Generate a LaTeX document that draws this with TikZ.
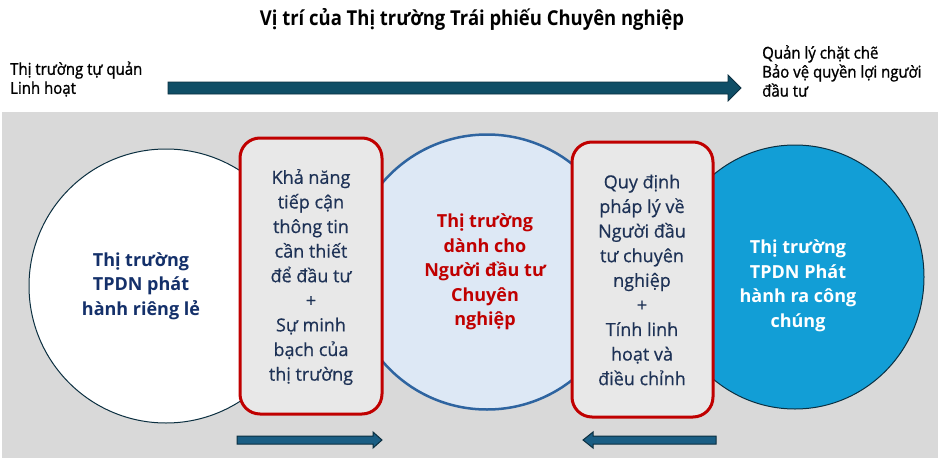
\documentclass[tikz,border=0pt]{standalone}
\usepackage{fontspec}
\setmainfont{Open Sans}
\newfontfamily\titlefont[FakeStretch=0.9]{Open Sans}
\newfontfamily\narrowfont[FakeStretch=0.92,FakeBold=1.2]{Open Sans}
\newfontfamily\boxfont[FakeBold=0.6]{Open Sans}
\usetikzlibrary{shapes.geometric}
\definecolor{bggray}{HTML}{D9D9D9}
\definecolor{boxfill}{HTML}{E8E8E8}
\definecolor{boxred}{HTML}{C00000}
\definecolor{navy}{HTML}{14306A}
\definecolor{boxtext}{HTML}{1E3256}
\definecolor{arrowfill}{HTML}{0F4E66}
\definecolor{smallarrow}{HTML}{1A5E84}
\definecolor{arrowline}{HTML}{0B2F40}
\definecolor{midfill}{HTML}{DDE8F5}
\definecolor{midline}{HTML}{2E64A0}
\definecolor{rightfill}{HTML}{129ED6}
\tikzset{
  x=1pt,y=-1pt,
  toptext/.style={font=\narrowfont\fontsize{16.3}{19}\selectfont, align=left, inner sep=0pt},
  circtext/.style={font=\bfseries\fontsize{18}{24.5}\selectfont, align=center, inner sep=0pt},
  boxtxt/.style={font=\boxfont\fontsize{18}{24.6}\selectfont, align=center, inner sep=0pt, text=boxtext},
  redbox/.style={draw=boxred, line width=3pt, fill=boxfill, rounded corners=20pt},
  bigarrow/.style={fill=arrowfill, draw=arrowline, line width=0.8pt},
  smallarr/.style={fill=smallarrow, draw=arrowline, line width=1pt}
}
\begin{document}
\begin{tikzpicture}
\useasboundingbox (0,0) rectangle (943,458);
\fill[white] (0,0) rectangle (943,458);
% title
\node[font=\titlefont\bfseries\fontsize{20.5}{24}\selectfont, inner sep=0pt] (title) at (472,19) {Vị trí của Thị trường Trái phiếu Chuyên nghiệp};
% top labels
\node[toptext, anchor=west] (ltxt) at (10,79) {Thị trường tự quản\\Linh hoạt};
\node[toptext, anchor=west] (rtxt) at (762,71) {Quản lý chặt chẽ\\Bảo vệ quyền lợi người\\đầu tư};
% top arrow
\path[bigarrow] (168,82) -- (728,82) -- (728,75) -- (741,88) -- (728,101) -- (728,94) -- (168,94) -- cycle;
% gray background
\fill[bggray] (2,112) rectangle (938,458);
% circles
\node[circle, draw=arrowline, line width=1pt, fill=white, minimum size=274pt, inner sep=0pt] (lc) at (166,286) {};
\node[circle, draw=midline, line width=2.5pt, fill=midfill, minimum size=275pt, inner sep=0pt] (mc) at (487,272) {};
\node[ellipse, draw=arrowline, line width=1pt, fill=rightfill, minimum width=258pt, minimum height=264pt, inner sep=0pt] (rc) at (795,277) {};
\node[circtext, text=navy] (lct) at (141,286) {Thị trường\\TPDN phát\\hành riêng lẻ};
\node[circtext, text=boxred] (mct) at (485,272) {Thị trường\\dành cho\\Người đầu tư\\Chuyên\\nghiệp};
\node[circtext, text=white] (rct) at (798,286) {Thị trường\\TPDN Phát\\hành ra công\\chúng};
% boxes
\node[redbox, minimum width=142pt, minimum height=276pt, inner sep=0pt] (lb) at (311,276) {};
\node[boxtxt] (lbt) at (311,277) {Khả năng\\tiếp cận\\thông tin\\cần thiết\\để đầu tư\\+\\Sự minh\\bạch của\\thị trường};
\node[redbox, minimum width=141pt, minimum height=275pt, inner sep=0pt] (rb) at (642.5,279.5) {};
\node[boxtxt] (rbt) at (642,280) {Quy định\\pháp lý về\\Người đầu\\tư chuyên\\nghiệp\\+\\Tính linh\\hoạt và\\điều chỉnh};
% bottom arrows
\path[smallarr] (237,436) -- (373,436) -- (373,432) -- (382,440) -- (373,448) -- (373,444) -- (237,444) -- cycle;
\path[smallarr] (716,436) -- (593,436) -- (593,432) -- (583,440) -- (593,448) -- (593,444) -- (716,444) -- cycle;
\end{tikzpicture}
\end{document}
